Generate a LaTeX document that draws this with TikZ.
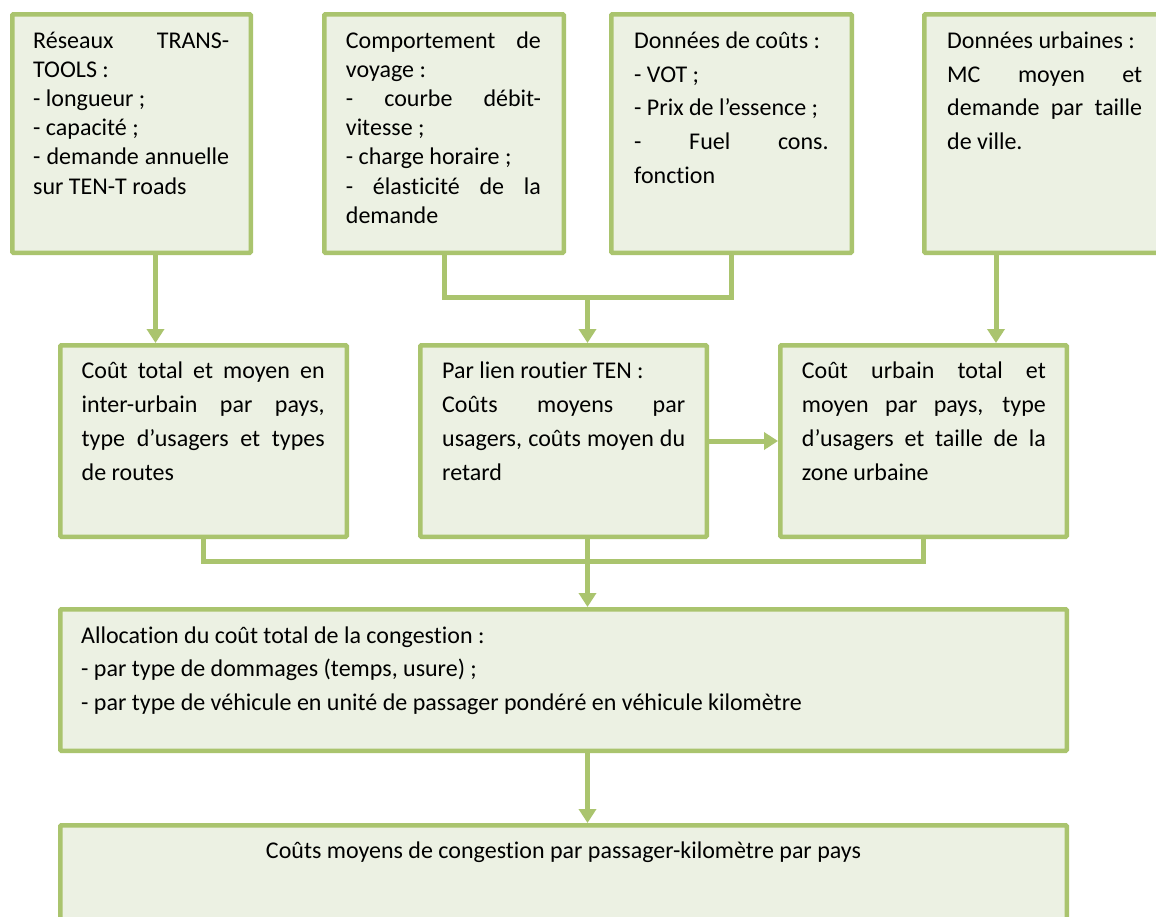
\documentclass[tikz,border=0pt]{standalone}
\usepackage{fontspec}
\setmainfont[Ligatures={NoCommon}]{Carlito}
\usetikzlibrary{arrows.meta}
\definecolor{gborder}{RGB}{170,196,110}
\definecolor{gfill}{RGB}{236,241,227}
\newcommand{\jl}[1]{\makebox[\linewidth][s]{#1}}
\newcommand{\tb}[3]{\parbox[t]{#1}{\fontsize{24pt}{#2}\selectfont\parindent0pt #3}}
\begin{document}
\begin{tikzpicture}[x=1pt,y=-1pt,
  gbox/.style={draw=gborder, fill=gfill, line width=4.5pt, inner sep=0pt, rounded corners=1pt},
  txt/.style={inner sep=0pt, anchor=base west, text=black},
  conn/.style={draw=gborder, line width=5pt},
  arr/.style={conn, -{Triangle[width=17pt,length=14pt]}}]
\useasboundingbox (0,0) rectangle (1156,916);
\clip (0,0) rectangle (1156,916);
\fill[white] (0,0) rectangle (1156,916);

% boxes
\node[gbox, minimum width=238.5pt, minimum height=238.5pt] (b1) at (131.5,133.5) {};
\node[gbox, minimum width=239.5pt, minimum height=238.5pt] (b2) at (444,133.5) {};
\node[gbox, minimum width=240.5pt, minimum height=238.5pt] (b3) at (731.5,133.5) {};
\node[gbox, minimum width=243.5pt, minimum height=238.5pt] (b4) at (1046,133.5) {};
\node[gbox, minimum width=286.5pt, minimum height=191.5pt] (b5) at (203.5,441) {};
\node[gbox, minimum width=286.5pt, minimum height=191.5pt] (b6) at (563.5,441) {};
\node[gbox, minimum width=286.5pt, minimum height=191.5pt] (b7) at (923.5,441) {};
\node[gbox, minimum width=1006.5pt, minimum height=141.5pt] (b8) at (563.5,680) {};
\node[gbox, minimum width=1006.5pt, minimum height=132.5pt] (b9) at (563.5,891.5) {};

% helper coordinates
\coordinate (xa) at (155.5,0);
\coordinate (xd) at (996,0);
\coordinate (j1) at (587.5,297);
\coordinate (j2) at (587.5,561);

% connectors
\draw[arr] (b1.south -| xa) -- (b5.north -| xa);
\draw[conn] (b2.south) |- (j1) -| (b3.south);
\draw[arr] (j1) -- (b6.north -| j1);
\draw[arr] (b4.south -| xd) -- (b7.north -| xd);
\draw[arr] (b6.east) -- (b7.west);
\draw[conn] (b5.south) |- (j2) -| (b7.south);
\draw[conn] (b6.south -| j2) -- (j2);
\draw[arr] (j2) -- (b8.north -| j2);
\draw[arr] (b8.south -| j2) -- (b9.north -| j2);

% texts
\node[txt] (t1) at (33,48) {\tb{196pt}{29.2pt}{%
\jl{Réseaux TRANS-}\par
TOOLS :\par
- longueur ;\par
- capacité ;\par
\jl{- demande annuelle}\par
sur TEN-T roads}};
\node[txt] (t2) at (345.7,48) {\tb{195pt}{29.2pt}{%
\jl{Comportement de}\par
voyage :\par
\jl{- courbe débit-}\par
vitesse ;\par
- charge horaire ;\par
\jl{- élasticité de la}\par
demande}};
\node[txt] (t3) at (634,48.3) {\tb{194.5pt}{33.7pt}{%
Données de coûts :\par
- VOT ;\par
- Prix de l’essence ;\par
\jl{- Fuel cons.}\par
fonction}};
\node[txt] (t4) at (947,48.3) {\tb{195pt}{33.7pt}{%
Données urbaines :\par
\jl{MC moyen et}\par
\jl{demande par taille}\par
de ville.}};
\node[txt] (t5) at (81.5,378) {\tb{243pt}{34pt}{%
\jl{Coût total et moyen en}\par
\jl{inter-urbain par pays,}\par
\jl{type d’usagers et types}\par
de routes}};
\node[txt] (t6) at (442,378) {\tb{243pt}{34pt}{%
Par lien routier TEN :\par
\jl{Coûts moyens par}\par
\jl{usagers, coûts moyen du}\par
retard}};
\node[txt] (t7) at (801.7,378) {\tb{244pt}{34pt}{%
\jl{Coût urbain total et}\par
\jl{moyen par pays, type}\par
\jl{d’usagers et taille de la}\par
zone urbaine}};
\node[txt] (t8) at (81,643) {\tb{950pt}{33.7pt}{%
Allocation du coût total de la congestion :\par
- par type de dommages (temps, usure) ;\par
- par type de véhicule en unité de passager pondéré en véhicule kilomètre}};
\node[inner sep=0pt, anchor=base, text=black, font=\fontsize{24pt}{28pt}\selectfont] (t9) at (563.5,858) {Coûts moyens de congestion par passager-kilomètre par pays};
\end{tikzpicture}
\end{document}
